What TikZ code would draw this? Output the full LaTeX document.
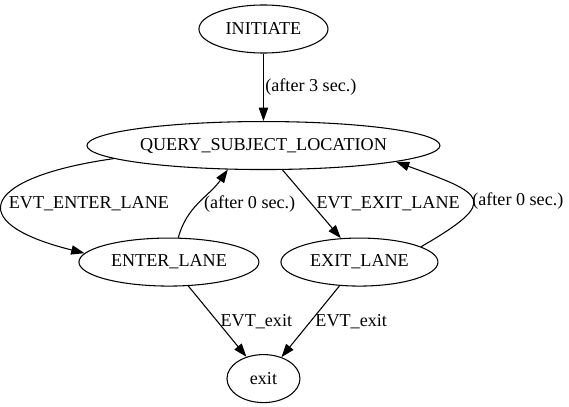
\documentclass[tikz,border=0pt]{standalone}
\usepackage{fontspec}
\setmainfont{Liberation Serif}
\usetikzlibrary{positioning,shapes.geometric,arrows.meta}

\begin{document}
\begin{tikzpicture}[node distance={87.4pt}, thick, >={Triangle[length=10pt,width=7pt]},
        every node/.style={font=\fontsize{13.6pt}{16pt}\selectfont},
        state/.style={draw, ellipse, inner sep=0pt, minimum height=36pt}]
            \useasboundingbox (0,0) rectangle (426.75pt,-305.25pt);
            \node[state, minimum width=96.75pt] (1) at (197.6pt,-21.75pt) {INITIATE};
            \node[state, minimum width=264.75pt] (2) [below of=1] {QUERY\_SUBJECT\_LOCATION};
            \node[state, minimum width=135pt] (3) [below of=2, xshift=-70.9pt] {ENTER\_LANE};
            \node[state, minimum width=117.75pt] (4) [below of=2, xshift=72pt] {EXIT\_LANE};
            \node[state, minimum width=54.75pt] (5) [below of=3, xshift=70.9pt] {exit};

            \draw[->] (1) -- node[right, inner sep=1pt] {(after 3 sec.)} (2);
            \draw[->] (2.185) to[out=188, in=166, looseness=3.35] node[right, yshift=-2pt] {EVT\_ENTER\_LANE} (3.174);
            \draw[->] (3.69) to[out=75, in=235] node[right, yshift=-2pt] {(after 0 sec.)} (2.214);
            \draw[->] (2.308) -- node[right] {EVT\_EXIT\_LANE} (4.128);
            \draw[->] (4.14) to[out=30, in=-20, looseness=2.7] node[right, inner sep=0pt, yshift=-2pt] {(after 0 sec.)} (2.353);
            \draw[->] (3.309) -- node[right, inner sep=2pt] {EVT\_exit} (5.128);
            \draw[->] (4.230) -- node[right] {EVT\_exit} (5.50);
        \end{tikzpicture}
\end{document}
